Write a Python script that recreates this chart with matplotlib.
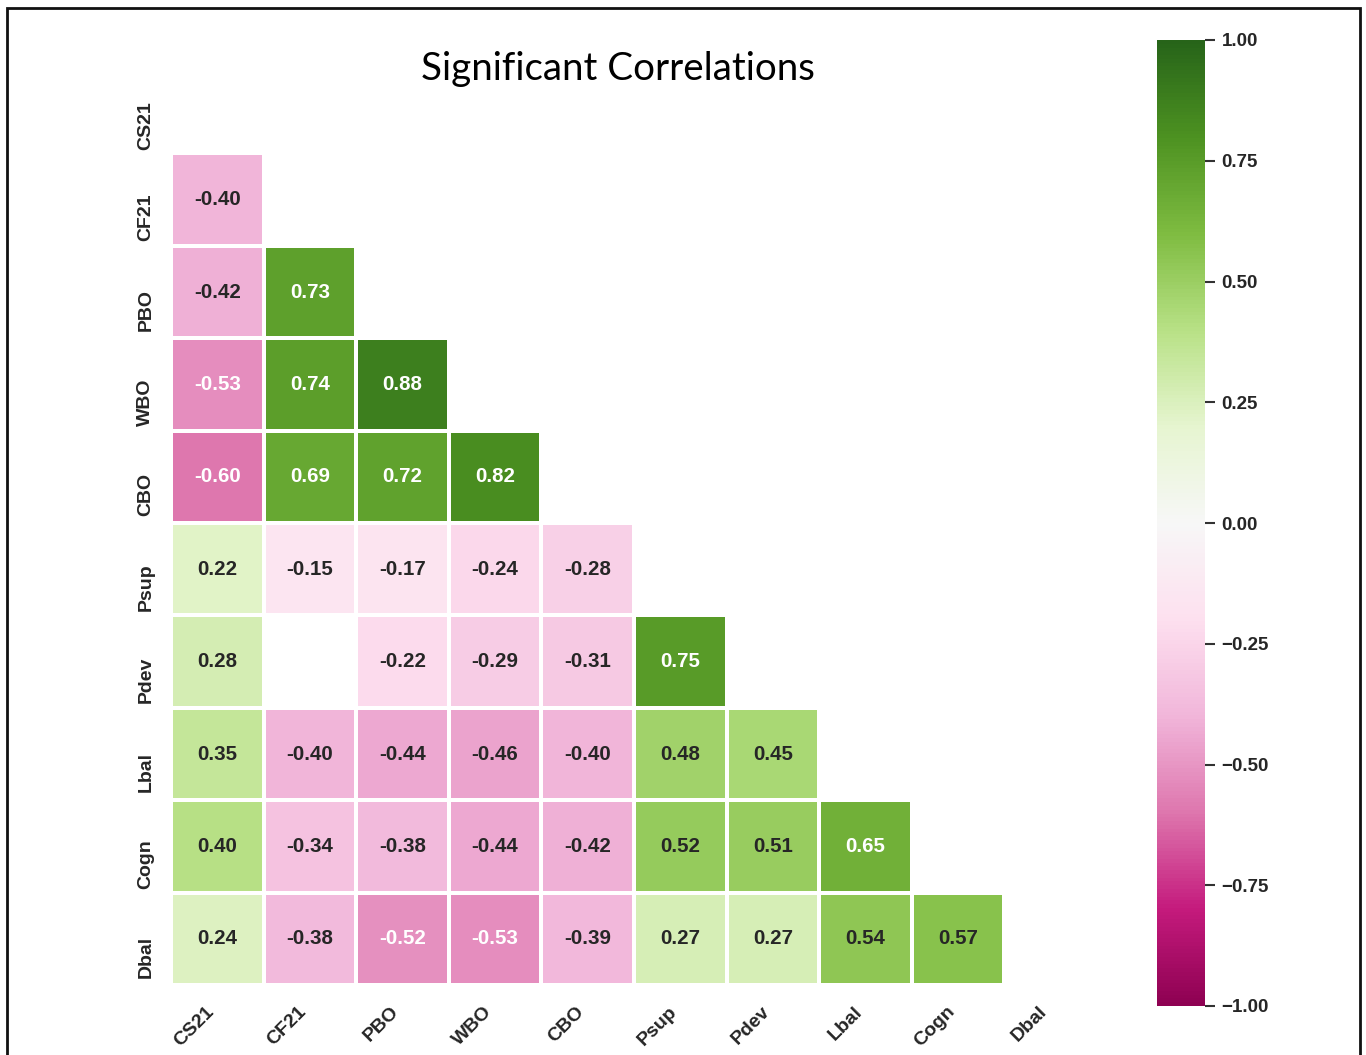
import numpy as np
import pandas as pd
import matplotlib
matplotlib.use("Agg")
import matplotlib.pyplot as plt
from matplotlib.patches import Rectangle
from matplotlib.transforms import ScaledTranslation
import seaborn as sns

# Variables in the correlation matrix
labels = ["CS21", "CF21", "PBO", "WBO", "CBO", "Psup", "Pdev", "Lbal", "Cogn", "Dbal"]

# Lower-triangle significant correlations, one row per variable (NaN = not significant)
row_CS21 = []
row_CF21 = [-0.40]
row_PBO = [-0.42, 0.73]
row_WBO = [-0.53, 0.74, 0.88]
row_CBO = [-0.60, 0.69, 0.72, 0.82]
row_Psup = [0.22, -0.15, -0.17, -0.24, -0.28]
row_Pdev = [0.28, np.nan, -0.22, -0.29, -0.31, 0.75]
row_Lbal = [0.35, -0.40, -0.44, -0.46, -0.40, 0.48, 0.45]
row_Cogn = [0.40, -0.34, -0.38, -0.44, -0.42, 0.52, 0.51, 0.65]
row_Dbal = [0.24, -0.38, -0.52, -0.53, -0.39, 0.27, 0.27, 0.54, 0.57]

rows = [row_CS21, row_CF21, row_PBO, row_WBO, row_CBO,
        row_Psup, row_Pdev, row_Lbal, row_Cogn, row_Dbal]

n = len(labels)
mat = np.full((n, n), np.nan)
for i, r in enumerate(rows):
    for j, v in enumerate(r):
        mat[i, j] = v
corr = pd.DataFrame(mat, index=labels, columns=labels)
mask = np.isnan(mat)

W, H = 1366, 1055
fig = plt.figure(figsize=(W / 100, H / 100), dpi=100)
fig.patch.set_facecolor("white")

ax = fig.add_axes([171 / W, 1 - 985 / H, 926 / W, 924 / H])
cax = fig.add_axes([1157 / W, 1 - 1006 / H, 48 / W, 966 / H])

tick_font = "Liberation Sans"
sns.heatmap(corr, mask=mask, cmap="PiYG", vmin=-1, vmax=1, center=0,
            annot=True, fmt=".2f", linewidths=1.5, linecolor="white",
            annot_kws={"fontsize": 14.8, "fontweight": "bold", "family": tick_font},
            ax=ax, cbar_ax=cax)

ax.set_xlabel("")
ax.set_ylabel("")
ax.tick_params(axis="x", length=0, pad=13)
ax.tick_params(axis="y", length=0, pad=12)
ax.set_xticklabels(labels, rotation=45, ha="right", rotation_mode="default",
                   fontsize=14, fontweight="bold", family=tick_font, color="#262626")
ax.set_yticklabels(labels, rotation=90, va="center",
                   fontsize=14, fontweight="bold", family=tick_font, color="#262626")
# row labels sit a little below the row centres
shift = ScaledTranslation(0, -18 / 100, fig.dpi_scale_trans)
for t in ax.get_yticklabels():
    t.set_transform(t.get_transform() + shift)

cbar = ax.collections[0].colorbar
cbar.set_ticks([-1, -0.75, -0.5, -0.25, 0, 0.25, 0.5, 0.75, 1])
cbar.outline.set_visible(False)
cax.tick_params(length=7, width=1.5, color="#333333", pad=5)
for t in cax.get_yticklabels():
    t.set_fontsize(13.5)
    t.set_fontweight("bold")
    t.set_family(tick_font)
    t.set_color("#262626")

fig.text(618 / W, 1 - 80 / H, "Significant Correlations", ha="center", va="baseline",
         fontsize=27.7, family="Lato", color="black")

# Frame around the whole picture
top = 1 - 8 / H
fig.add_artist(Rectangle((7 / W, -0.05), (1360 - 7) / W, top + 0.05,
                         transform=fig.transFigure, fill=False,
                         edgecolor="#111111", linewidth=2))

fig.savefig("out.png", dpi=100, facecolor="white")
